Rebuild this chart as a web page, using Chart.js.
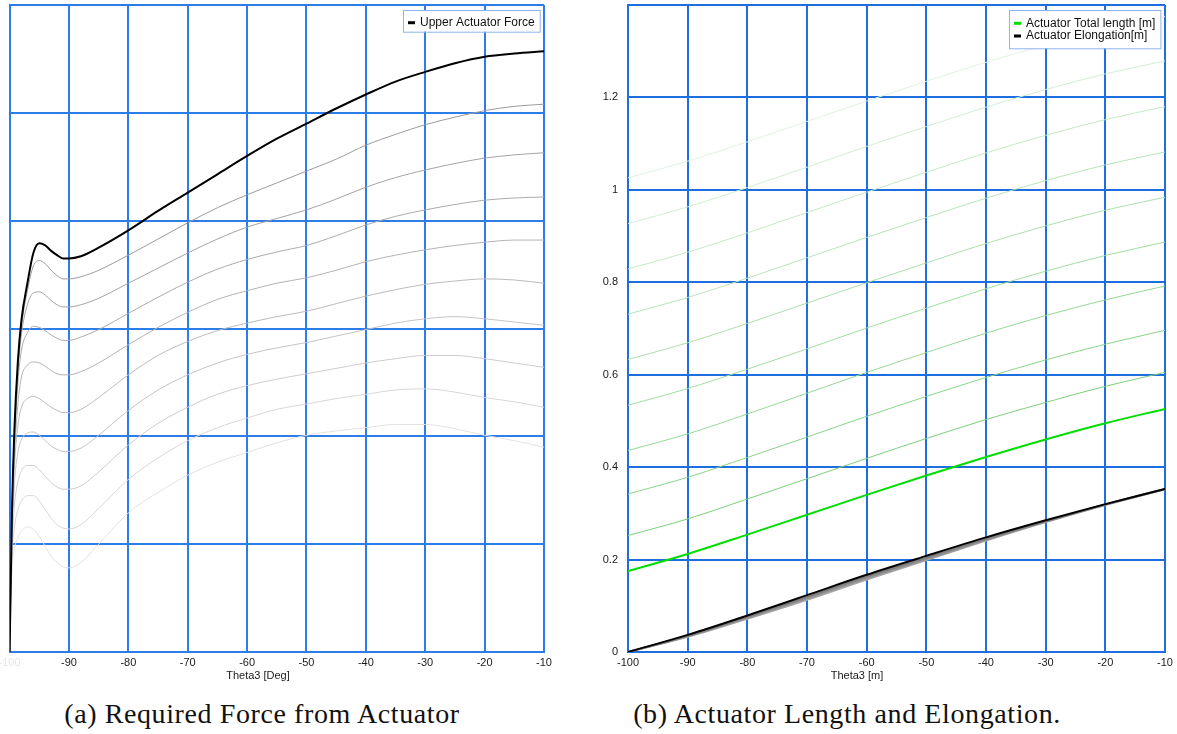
<!DOCTYPE html>
<html>
<head>
<meta charset="utf-8">
<script src="https://cdn.jsdelivr.net/npm/chart.js"></script>
<style>
  body {
    margin: 0;
    background: #fff;
    width: 1177px;
    height: 734px;
    overflow: hidden;
    position: relative;
    font-family: "Liberation Sans", Arial, sans-serif;
  }
  canvas { position: absolute; top: 0; }
  #forceChart { left: 0; }
  #lengthChart { left: 580px; }
  .axis-title {
    position: absolute;
    top: 669px;
    font-size: 11px;
    line-height: 13px;
    color: #1a1a1a;
    transform: translateX(-50%);
    white-space: nowrap;
  }
  .caption {
    position: absolute;
    top: 700px;
    font-family: "Liberation Serif", serif;
    font-size: 28px;
    line-height: 28px;
    letter-spacing: 0.6px;
    color: #111;
    transform: translateX(-50%);
    white-space: nowrap;
  }
</style>
</head>
<body>
  <canvas id="forceChart" width="560" height="690"></canvas>
  <canvas id="lengthChart" width="597" height="690"></canvas>

  <div class="axis-title" style="left:258px">Theta3 [Deg]</div>
  <div class="axis-title" style="left:857px">Theta3 [m]</div>
  <div class="caption" style="left:262px">(a) Required Force from Actuator</div>
  <div class="caption" style="left:847px">(b) Actuator Length and Elongation.</div>

<script>
  // ---- force vs. theta3 (one curve per load case, top one is the upper actuator) ----
  const thetaForce = [-100, -99.6, -99.2, -98.6, -98, -97, -96, -95, -94, -93, -92, -91, -90, -88, -85,
                      -80, -75, -70, -65, -60, -55, -50, -45, -40, -35, -30, -25, -20, -15, -10];

  const upperForce = [0, 1.3, 2.05, 2.7, 3.08, 3.42, 3.70, 3.79, 3.77, 3.72, 3.68, 3.65, 3.65, 3.67, 3.75,
                      3.91, 4.09, 4.26, 4.43, 4.60, 4.76, 4.90, 5.04, 5.17, 5.29, 5.38, 5.46, 5.52, 5.55, 5.57];
  const force2 = [0, 1.28, 2.0, 2.65, 3.02, 3.35, 3.58, 3.63, 3.60, 3.54, 3.49, 3.46, 3.46, 3.48, 3.54,
                  3.68, 3.83, 3.98, 4.12, 4.24, 4.35, 4.46, 4.57, 4.70, 4.80, 4.89, 4.96, 5.02, 5.06, 5.08];
  const force3 = [0, 1.25, 1.95, 2.6, 2.95, 3.22, 3.33, 3.34, 3.31, 3.26, 3.22, 3.20, 3.20, 3.22, 3.28,
                  3.42, 3.56, 3.70, 3.83, 3.94, 4.02, 4.10, 4.20, 4.31, 4.40, 4.47, 4.53, 4.58, 4.61, 4.63];
  const force4 = [0, 1.2, 1.9, 2.5, 2.8, 2.96, 3.02, 3.01, 2.98, 2.94, 2.91, 2.89, 2.89, 2.92, 2.99,
                  3.14, 3.29, 3.43, 3.55, 3.64, 3.71, 3.77, 3.86, 3.96, 4.04, 4.10, 4.15, 4.19, 4.21, 4.22];
  const force5 = [0, 1.15, 1.8, 2.3, 2.55, 2.66, 2.69, 2.68, 2.65, 2.61, 2.58, 2.57, 2.57, 2.60, 2.68,
                  2.85, 3.01, 3.15, 3.27, 3.35, 3.42, 3.47, 3.54, 3.62, 3.68, 3.73, 3.77, 3.80, 3.82, 3.82];
  const force6 = [0, 1.1, 1.7, 2.1, 2.27, 2.35, 2.37, 2.35, 2.31, 2.27, 2.24, 2.22, 2.22, 2.25, 2.36,
                  2.57, 2.75, 2.88, 2.98, 3.05, 3.11, 3.16, 3.23, 3.30, 3.36, 3.41, 3.44, 3.46, 3.45, 3.42];
  const force7 = [0, 1.05, 1.55, 1.85, 1.97, 2.03, 2.04, 2.01, 1.96, 1.91, 1.88, 1.86, 1.86, 1.89, 2.01,
                  2.24, 2.43, 2.57, 2.68, 2.76, 2.82, 2.87, 2.93, 2.99, 3.05, 3.09, 3.11, 3.09, 3.06, 3.03];
  const force8 = [0, 0.95, 1.35, 1.58, 1.68, 1.73, 1.73, 1.69, 1.63, 1.57, 1.53, 1.51, 1.51, 1.54, 1.67,
                  1.92, 2.12, 2.27, 2.39, 2.47, 2.53, 2.58, 2.63, 2.68, 2.72, 2.75, 2.75, 2.72, 2.68, 2.64];
  const force9 = [0, 0.85, 1.15, 1.32, 1.40, 1.45, 1.45, 1.40, 1.32, 1.24, 1.18, 1.15, 1.14, 1.18, 1.33,
                  1.60, 1.80, 1.96, 2.08, 2.17, 2.25, 2.30, 2.35, 2.39, 2.43, 2.44, 2.41, 2.36, 2.32, 2.27];
  const force10 = [0, 0.75, 0.95, 1.06, 1.12, 1.16, 1.14, 1.07, 0.98, 0.89, 0.83, 0.79, 0.78, 0.83, 1.00,
                   1.29, 1.48, 1.64, 1.76, 1.85, 1.94, 2.01, 2.05, 2.08, 2.11, 2.11, 2.07, 2.01, 1.96, 1.90];

  const forceCurves = [upperForce, force2, force3, force4, force5, force6, force7, force8, force9, force10];
  const forceColors = ['#000000', '#9c9c9c', '#a4a4a4', '#ababab', '#b3b3b3', '#bbbbbb', '#c4c4c4', '#cdcdcd', '#d7d7d7', '#e2e2e2'];
  const forceLegend = ['Upper Actuator Force'];

  // ---- actuator length / elongation vs. theta3 ----
  const thetaLength = [-100, -90, -80, -70, -60, -50, -40, -30, -20, -10];

  const totalLength = [0.175, 0.212, 0.254, 0.297, 0.340, 0.382, 0.422, 0.460, 0.495, 0.526];
  const length2 = [0.252, 0.288, 0.331, 0.375, 0.419, 0.462, 0.503, 0.540, 0.575, 0.605];
  const length3 = [0.342, 0.378, 0.421, 0.465, 0.510, 0.553, 0.594, 0.632, 0.666, 0.696];
  const length4 = [0.436, 0.472, 0.515, 0.560, 0.605, 0.648, 0.690, 0.728, 0.762, 0.792];
  const length5 = [0.534, 0.570, 0.612, 0.656, 0.701, 0.744, 0.786, 0.824, 0.858, 0.887];
  const length6 = [0.633, 0.669, 0.711, 0.755, 0.799, 0.842, 0.884, 0.922, 0.956, 0.984];
  const length7 = [0.731, 0.767, 0.809, 0.853, 0.897, 0.940, 0.982, 1.020, 1.054, 1.082];
  const length8 = [0.829, 0.865, 0.907, 0.951, 0.995, 1.038, 1.080, 1.118, 1.152, 1.180];
  const length9 = [0.927, 0.963, 1.005, 1.049, 1.094, 1.137, 1.179, 1.217, 1.251, 1.279];
  const length10 = [1.026, 1.062, 1.104, 1.148, 1.192, 1.235, 1.276, 1.313, 1.346, 1.375];
  const lengthCurves = [totalLength, length2, length3, length4, length5, length6, length7, length8, length9, length10];
  const lengthColors = ['#00dd00', '#7ccf7c', '#88d488', '#94d994', '#a0dea0', '#acdfac', '#b8e4b8', '#c4e9c4', '#d2eed2', '#e0f3e0'];

  const elongation = [0, 0.037, 0.079, 0.123, 0.167, 0.208, 0.248, 0.285, 0.320, 0.353];
  const elongation2 = [0, 0.035, 0.076, 0.119, 0.163, 0.204, 0.245, 0.283, 0.319, 0.353];
  const elongation3 = [0, 0.034, 0.074, 0.116, 0.160, 0.201, 0.243, 0.282, 0.319, 0.352];
  const elongation4 = [0, 0.033, 0.072, 0.113, 0.157, 0.199, 0.241, 0.281, 0.318, 0.352];
  const elongationColors = ['#000000', '#808080', '#939393', '#a6a6a6'];

  const lengthLegend = ['Actuator Total length [m]', 'Actuator Elongation[m]'];
  const lengthYTicks = [0, 0.2, 0.4, 0.6, 0.8, 1, 1.2];

  const FONT = '"Liberation Sans", Arial, sans-serif';

  function pts(xs, ys) {
    return ys.map((y, i) => ({ x: xs[i], y: y }));
  }

  // keep the plot box where we put it: no extra room for overhanging tick labels
  function noOverhang(s) {
    s.paddingLeft = 0;
    s.paddingRight = 0;
    s.paddingTop = 0;
    s.paddingBottom = 0;
  }

  // legend drawn as a framed box in the top right corner of the plot
  const boxLegend = {
    id: 'boxLegend',
    afterDraw(chart, args, o) {
      if (!o.items) return;
      const ctx = chart.ctx, a = chart.chartArea;
      ctx.save();
      ctx.font = '12px ' + FONT;
      const w = 17 + Math.max(...o.items.map(it => ctx.measureText(it.text).width)) + 5;
      const x = Math.round(a.right - 4.5 - w), y = Math.round(a.top + 5);
      ctx.fillStyle = '#fff';
      ctx.fillRect(x, y, w, o.height);
      ctx.strokeStyle = '#8fb3ee';
      ctx.lineWidth = 1;
      ctx.strokeRect(x + 0.5, y + 0.5, w, o.height);
      ctx.textBaseline = 'middle';
      o.items.forEach((it, i) => {
        const cy = y + o.first + i * o.step;
        ctx.fillStyle = it.color;
        ctx.fillRect(x + 5, cy - 1.5, 7, 3);
        ctx.fillStyle = '#111';
        ctx.fillText(it.text, x + 17, cy);
      });
      ctx.restore();
    }
  };

  function xScale(grid, firstColor) {
    return {
      type: 'linear',
      min: -100,
      max: -10,
      ticks: {
        stepSize: 10,
        padding: 4,
        font: { size: 11, family: FONT },
        color: c => (c.index === 0 ? firstColor : '#1a1a1a'),
        callback: v => String(v),
        maxRotation: 0
      },
      grid: { color: grid, lineWidth: 2, drawTicks: false },
      border: { color: grid, width: 2 },
      afterFit: s => { s.height = 38; noOverhang(s); }
    };
  }

  const baseOptions = {
    responsive: false,
    animation: false,
    elements: {
      point: { radius: 0 },
      line: { cubicInterpolationMode: 'monotone', borderCapStyle: 'round' }
    }
  };

  // (a) force chart
  const forceGrid = '#2d7de8';
  new Chart(document.getElementById('forceChart'), {
    type: 'line',
    data: {
      datasets: forceCurves.map((c, i) => ({
        label: i === 0 ? forceLegend[0] : 'case ' + (i + 1),
        data: pts(thetaForce, c),
        borderColor: forceColors[i],
        borderWidth: i === 0 ? 2 : 1,
        fill: false
      }))
    },
    options: Object.assign({}, baseOptions, {
      layout: { padding: { left: 0, right: 16, top: 5, bottom: 0 } },
      plugins: {
        legend: { display: false },
        tooltip: { enabled: false },
        boxLegend: {
          items: [{ text: forceLegend[0], color: '#000' }],
          height: 21.7, first: 12.7, step: 12.7
        }
      },
      scales: {
        x: xScale(forceGrid, '#e6e6e6'),
        y: {
          min: 0,
          max: 6,
          ticks: { display: false, stepSize: 1 },
          grid: { color: forceGrid, lineWidth: 2, drawTicks: false },
          border: { color: forceGrid, width: 2 },
          afterFit: s => { s.width = 9.6; noOverhang(s); }
        }
      }
    }),
    plugins: [boxLegend]
  });

  // (b) length / elongation chart
  const lengthGrid = '#1e6ee0';
  const lengthSets = lengthCurves.map((c, i) => ({
    label: i === 0 ? lengthLegend[0] : 'length ' + (i + 1),
    data: pts(thetaLength, c),
    borderColor: lengthColors[i],
    borderWidth: i === 0 ? 2 : 1,
    fill: false
  }));
  const elongSets = [elongation, elongation2, elongation3, elongation4].map((c, i) => ({
    label: i === 0 ? lengthLegend[1] : 'elongation ' + (i + 1),
    data: pts(thetaLength, c),
    borderColor: elongationColors[i],
    borderWidth: 2,
    fill: false
  }));

  new Chart(document.getElementById('lengthChart'), {
    type: 'line',
    data: { datasets: [elongSets[0], lengthSets[0]].concat(elongSets.slice(1), lengthSets.slice(1)) },
    options: Object.assign({}, baseOptions, {
      layout: { padding: { left: 0, right: 12, top: 5, bottom: 0 } },
      plugins: {
        legend: { display: false },
        tooltip: { enabled: false },
        boxLegend: {
          items: [{ text: lengthLegend[0], color: '#00dd00' }, { text: lengthLegend[1], color: '#000' }],
          height: 38.3, first: 13.3, step: 12.7
        }
      },
      scales: {
        x: xScale(lengthGrid, '#1a1a1a'),
        y: {
          min: 0,
          max: 1.4,
          ticks: {
            stepSize: 0.2,
            padding: 10,
            font: { size: 11, family: FONT },
            color: '#1a1a1a',
            callback: v => {
              const t = lengthYTicks.find(k => Math.abs(k - v) < 1e-6);
              return t === undefined ? '' : String(t);
            }
          },
          grid: { color: lengthGrid, lineWidth: 2, drawTicks: false },
          border: { color: lengthGrid, width: 2 },
          afterFit: s => { s.width = 48; noOverhang(s); }
        }
      }
    }),
    plugins: [boxLegend]
  });
</script>
</body>
</html>
